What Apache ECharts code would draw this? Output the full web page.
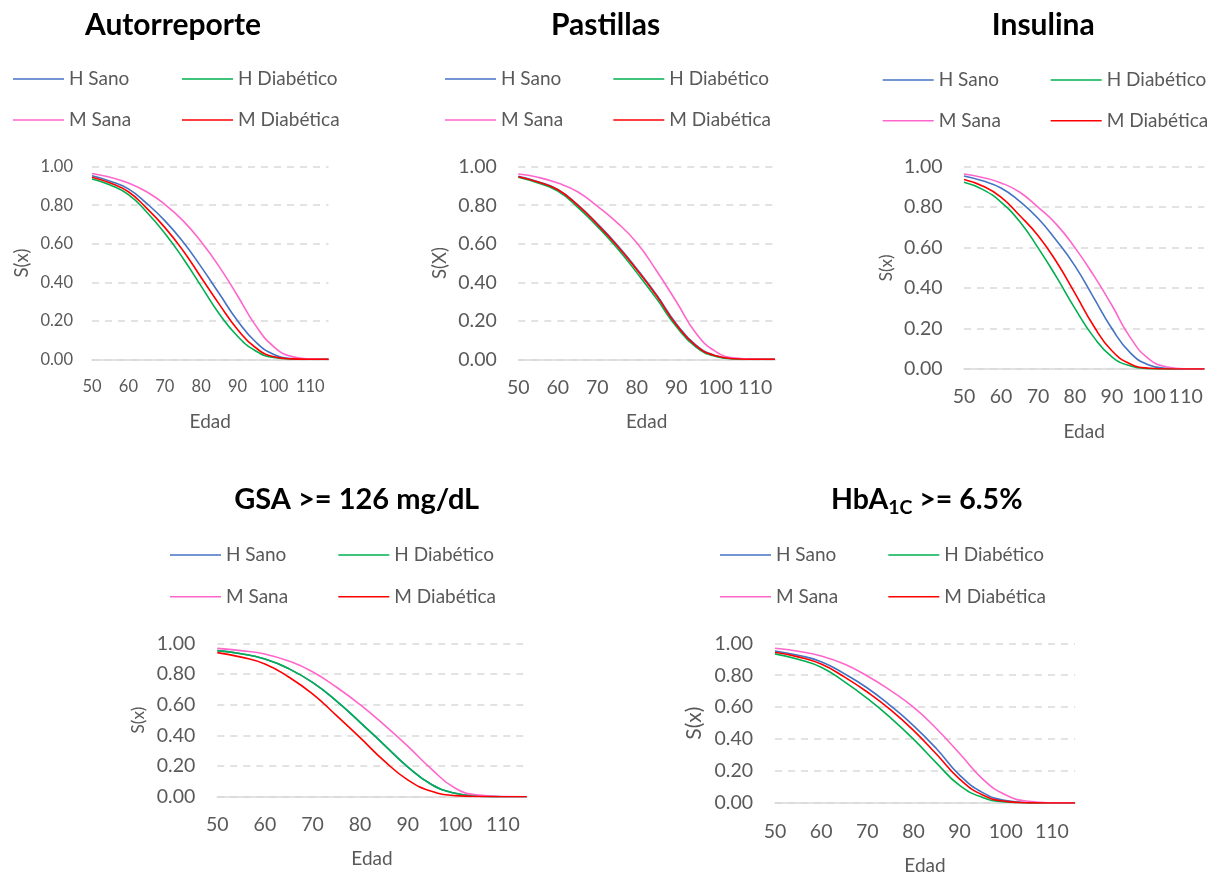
<!DOCTYPE html>
<html>
<head>
<meta charset="utf-8">
<script src="https://cdn.jsdelivr.net/npm/echarts@6/dist/echarts.min.js"></script>
<style>
  html, body { margin: 0; padding: 0; background: #ffffff; }
  #chart { width: 1215px; height: 876px; }
</style>
</head>
<body>
<div id="chart"></div>
<script>
// Ages (Edad) at which the survival functions are sampled
const ages = [50, 55, 60, 65, 70, 75, 80, 85, 90, 95, 100, 105, 110, 115];

// Autorreporte
const autoHSano = [0.953, 0.925, 0.885, 0.81, 0.72, 0.61, 0.48, 0.34, 0.20, 0.09, 0.025, 0.004, 0, 0];
const autoHDiab = [0.936, 0.905, 0.855, 0.765, 0.655, 0.525, 0.38, 0.235, 0.12, 0.043, 0.009, 0.001, 0, 0];
const autoMSana = [0.965, 0.945, 0.915, 0.87, 0.805, 0.72, 0.61, 0.48, 0.33, 0.175, 0.065, 0.014, 0.002, 0];
const autoMDiab = [0.945, 0.915, 0.87, 0.785, 0.685, 0.565, 0.425, 0.285, 0.155, 0.06, 0.013, 0.002, 0, 0];

// Pastillas
const pastHSano = [0.95, 0.922, 0.882, 0.803, 0.705, 0.595, 0.47, 0.335, 0.185, 0.073, 0.019, 0.003, 0, 0];
const pastHDiab = [0.945, 0.915, 0.873, 0.79, 0.69, 0.578, 0.45, 0.315, 0.17, 0.063, 0.015, 0.002, 0, 0];
const pastMSana = [0.962, 0.945, 0.915, 0.87, 0.795, 0.71, 0.605, 0.46, 0.30, 0.135, 0.04, 0.007, 0.001, 0];
const pastMDiab = [0.948, 0.92, 0.88, 0.80, 0.70, 0.59, 0.465, 0.33, 0.18, 0.07, 0.018, 0.003, 0, 0];

// Insulina
const insuHSano = [0.954, 0.93, 0.895, 0.83, 0.745, 0.635, 0.51, 0.355, 0.20, 0.08, 0.02, 0.003, 0, 0];
const insuHDiab = [0.923, 0.888, 0.825, 0.73, 0.60, 0.455, 0.30, 0.16, 0.06, 0.015, 0.002, 0, 0, 0];
const insuMSana = [0.964, 0.947, 0.92, 0.875, 0.80, 0.715, 0.60, 0.465, 0.315, 0.155, 0.05, 0.01, 0.001, 0];
const insuMDiab = [0.937, 0.905, 0.85, 0.76, 0.66, 0.53, 0.375, 0.215, 0.09, 0.025, 0.004, 0, 0, 0];

// GSA >= 126 mg/dL
const gsaHSano = [0.952, 0.932, 0.897, 0.835, 0.745, 0.625, 0.485, 0.34, 0.195, 0.08, 0.022, 0.004, 0, 0];
const gsaHDiab = [0.952, 0.932, 0.897, 0.835, 0.745, 0.625, 0.485, 0.34, 0.195, 0.08, 0.022, 0.004, 0, 0];
const gsaMSana = [0.967, 0.952, 0.93, 0.885, 0.815, 0.715, 0.60, 0.47, 0.33, 0.18, 0.055, 0.01, 0.001, 0];
const gsaMDiab = [0.939, 0.91, 0.865, 0.78, 0.67, 0.53, 0.385, 0.235, 0.11, 0.035, 0.007, 0.001, 0, 0];

// HbA1C >= 6.5%
const hbaHSano = [0.952, 0.925, 0.885, 0.81, 0.72, 0.61, 0.485, 0.34, 0.175, 0.065, 0.015, 0.002, 0, 0];
const hbaHDiab = [0.934, 0.90, 0.85, 0.76, 0.655, 0.535, 0.40, 0.25, 0.11, 0.035, 0.006, 0.001, 0, 0];
const hbaMSana = [0.969, 0.95, 0.92, 0.87, 0.795, 0.705, 0.60, 0.465, 0.31, 0.15, 0.05, 0.01, 0.001, 0];
const hbaMDiab = [0.944, 0.915, 0.87, 0.79, 0.695, 0.585, 0.455, 0.305, 0.15, 0.05, 0.01, 0.001, 0, 0];

// Series names, axis ticks and panel titles
const seriesNames = ['H Sano', 'H Diabético', 'M Sana', 'M Diabética'];
const xMin = 50, xMax = 115, xStep = 10;
const yMin = 0, yMax = 1, yStep = 0.2;
const xAxisName = 'Edad';

// Styling and placement of each panel
const FONT = 'Lato';
const TEXT_GREY = '#595959';
const GRID_GREY = '#D9D9D9';
const seriesColors = ['#4472C4', '#00B050', '#FF66CC', '#FF0000'];

const panels = [
  {
    title: 'Autorreporte', yName: 'S(x)', titleSize: 30,
    values: [autoHSano, autoHDiab, autoMSana, autoMDiab],
    grid: { left: 92, top: 166.7, width: 236.5, height: 192.6 },
    titlePos: [173, 25], legendCols: [13, 182], legendRows: [79, 120],
    tickSize: 16.5, yLabelMargin: 19, xLabelMargin: 19, xNameGap: 53, yNameGap: 60, ySize: 18.5
  },
  {
    title: 'Pastillas', yName: 'S(X)', titleSize: 30,
    values: [pastHSano, pastHDiab, pastMSana, pastMDiab],
    grid: { left: 518.3, top: 166.7, width: 256.7, height: 192.6 },
    titlePos: [605.5, 25], legendCols: [445, 613.3], legendRows: [79, 120],
    tickSize: 19.5, yLabelMargin: 21.5, xLabelMargin: 18, xNameGap: 53, yNameGap: 69, ySize: 18.5
  },
  {
    title: 'Insulina', yName: 'S(x)', titleSize: 30,
    values: [insuHSano, insuHDiab, insuMSana, insuMDiab],
    grid: { left: 964, top: 166.7, width: 240.3, height: 202.3 },
    titlePos: [1043.3, 25], legendCols: [882.7, 1050.7], legendRows: [80, 120.7],
    tickSize: 19.5, yLabelMargin: 21.5, xLabelMargin: 18, xNameGap: 53.5, yNameGap: 69, ySize: 17
  },
  {
    title: 'GSA >= 126 mg/dL', yName: 'S(x)', titleSize: 29,
    values: [gsaHSano, gsaHDiab, gsaMSana, gsaMDiab],
    grid: { left: 217.3, top: 643.3, width: 309.4, height: 153.4 },
    titlePos: [356.7, 500], legendCols: [170, 338.3], legendRows: [555, 596.7],
    tickSize: 19.5, yLabelMargin: 22, xLabelMargin: 18.5, xNameGap: 52.5, yNameGap: 70, ySize: 17
  },
  {
    title: 'HbA1C >= 6.5%', yName: 'S(x)', titleSize: 28.5, richTitle: true,
    values: [hbaHSano, hbaHDiab, hbaMSana, hbaMDiab],
    grid: { left: 775, top: 643.3, width: 300, height: 161.4 },
    titlePos: [926.7, 500], legendCols: [720, 888.3], legendRows: [555, 596.7],
    tickSize: 19.5, yLabelMargin: 22, xLabelMargin: 18.5, xNameGap: 53, yNameGap: 70, ySize: 21
  }
];

const grids = [], xAxes = [], yAxes = [], series = [], legends = [], graphics = [];

panels.forEach((p, i) => {
  grids.push(Object.assign({ containLabel: false }, p.grid));

  xAxes.push({
    gridIndex: i, type: 'value', min: xMin, max: xMax, interval: xStep,
    axisLine: { lineStyle: { color: GRID_GREY, width: 1.5 } },
    axisTick: { show: false },
    splitLine: { show: false },
    axisLabel: { showMaxLabel: false, color: TEXT_GREY, fontSize: p.tickSize, fontFamily: FONT, margin: p.xLabelMargin },
    name: xAxisName, nameLocation: 'middle', nameGap: p.xNameGap,
    nameTextStyle: { color: TEXT_GREY, fontSize: 19, fontFamily: FONT }
  });

  yAxes.push({
    gridIndex: i, type: 'value', min: yMin, max: yMax, interval: yStep,
    axisLine: { show: false },
    axisTick: { show: false },
    splitLine: { lineStyle: { color: GRID_GREY, width: 1.5, type: [7, 6] } },
    axisLabel: { color: TEXT_GREY, fontSize: p.tickSize, fontFamily: FONT, margin: p.yLabelMargin,
                 formatter: v => v.toFixed(2) },
    name: p.yName, nameLocation: 'middle', nameGap: p.yNameGap,
    nameTextStyle: { color: TEXT_GREY, fontSize: p.ySize, fontFamily: FONT }
  });

  seriesNames.forEach((name, k) => {
    series.push({
      name, type: 'line', xAxisIndex: i, yAxisIndex: i,
      data: ages.map((a, j) => [a, p.values[k][j]]),
      smooth: 0.5, symbol: 'none', silent: true,
      lineStyle: { color: seriesColors[k], width: 1.6 },
      itemStyle: { color: seriesColors[k] }
    });
    const row = Math.floor(k / 2), col = k % 2;
    legends.push({
      data: [name], selectedMode: false, padding: 0,
      left: p.legendCols[col], top: p.legendRows[row] - 10,
      icon: 'rect', itemWidth: 51, itemHeight: 1.6,
      textStyle: { color: TEXT_GREY, fontSize: 19, fontFamily: FONT, lineHeight: 20 }
    });
  });

  const titleStyle = { x: 0, y: 0, align: 'center', verticalAlign: 'middle', fill: '#000000',
                       fontFamily: FONT, fontWeight: 'bold', fontSize: p.titleSize };
  if (p.richTitle) {
    titleStyle.text = '{m|HbA}{s|1C}{m| >= 6.5%}';
    titleStyle.rich = {
      m: { fontFamily: FONT, fontWeight: 'bold', fontSize: p.titleSize, fill: '#000000', verticalAlign: 'bottom' },
      s: { fontFamily: FONT, fontWeight: 'bold', fontSize: 19.5, fill: '#000000', verticalAlign: 'bottom', padding: [0, 0, -3, 0] }
    };
  } else {
    titleStyle.text = p.title;
  }
  graphics.push({ type: 'text', x: p.titlePos[0], y: p.titlePos[1], style: titleStyle, silent: true });
});

const chart = echarts.init(document.getElementById('chart'), null, { renderer: 'canvas' });
chart.setOption({
  backgroundColor: '#ffffff',
  animation: false,
  grid: grids,
  xAxis: xAxes,
  yAxis: yAxes,
  legend: legends,
  series: series,
  graphic: graphics
});
</script>
</body>
</html>
